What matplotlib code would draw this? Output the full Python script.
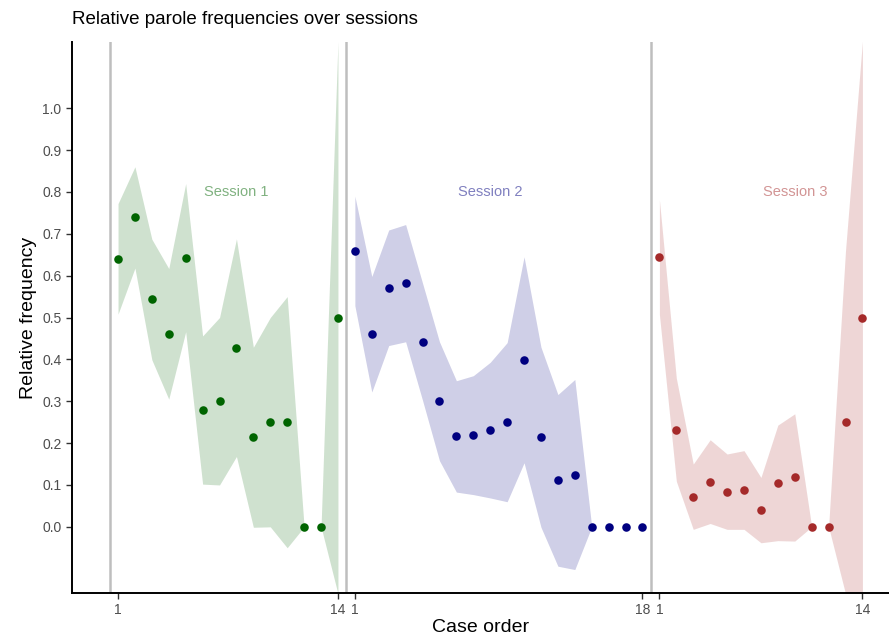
import numpy as np
import matplotlib.pyplot as plt

plt.rcParams['font.family'] = ['Liberation Sans', 'DejaVu Sans']

# Relative frequencies per case
sessione1 = [0.640, 0.739, 0.543, 0.461, 0.643, 0.279, 0.300, 0.428, 0.214, 0.250, 0.250, 0.0, 0.0, 0.500]
sessione2 = [0.659, 0.460, 0.571, 0.582, 0.442, 0.300, 0.216, 0.219, 0.231, 0.250, 0.399, 0.214,
             0.111, 0.125, 0.0, 0.0, 0.0, 0.0]
sessione3 = [0.644, 0.232, 0.072, 0.108, 0.084, 0.088, 0.040, 0.105, 0.118, 0.0, 0.0, 0.250, 0.500]

# Half-width of the ribbon around each value
errore1 = [0.132, 0.121, 0.144, 0.156, 0.177, 0.177, 0.200, 0.260, 0.215, 0.250, 0.300, 0.0, 0.0, 0.66]
errore2 = [0.131, 0.138, 0.138, 0.140, 0.140, 0.142, 0.133, 0.142, 0.162, 0.190, 0.246, 0.215,
           0.205, 0.227, 0.0, 0.0, 0.0, 0.0]
errore3 = [0.137, 0.123, 0.078, 0.100, 0.090, 0.094, 0.078, 0.138, 0.152, 0.0, 0.0, 0.41, 0.66]

sessioni = ["Session 1", "Session 2", "Session 3"]
colori = ["#006400", "#000080", "#a52a2a"]
etichette_x = ["1", "14", "1", "18", "1", "14"]
posizioni_testo = [8, 23, 41]

fig = plt.figure(figsize=(8.89, 6.42), dpi=100)
ax = fig.add_axes([72 / 889, 49 / 642, 817 / 889, 551 / 642])

dati = [sessione1, sessione2, sessione3]
errori = [errore1, errore2, errore3]
inizio = 1
tick_pos = []
confini = [0.5]
for valori, err, colore in zip(dati, errori, colori):
    valori = np.array(valori)
    err = np.array(err)
    x = np.arange(inizio, inizio + len(valori))
    ax.fill_between(x, valori - err, valori + err, color=colore, alpha=0.19, linewidth=0)
    ax.scatter(x, valori, color=colore, s=38, zorder=3, linewidths=0)
    tick_pos += [x[0], x[-1]]
    inizio += len(valori)
    confini.append(inizio - 0.5)

for c in confini[:-1]:
    ax.axvline(c, color="#bebebe", linewidth=1.8, zorder=1)

for nome, pos, colore in zip(sessioni, posizioni_testo, colori):
    ax.text(pos, 0.8, nome, color=colore, alpha=0.5, fontsize=10.5, ha="center", va="center")

ax.set_xlim(-1.72, 46.57)
ax.set_ylim(-0.158, 1.158)
ax.set_xticks(tick_pos)
ax.set_xticklabels(etichette_x)
ax.set_yticks(np.arange(0, 1.01, 0.1))
ax.set_yticklabels([f"{v:.1f}" for v in np.arange(0, 1.01, 0.1)])
ax.tick_params(colors="#333333", labelcolor="#4d4d4d", labelsize=10, length=4, width=1)

for lato in ["top", "right"]:
    ax.spines[lato].set_visible(False)
for lato in ["left", "bottom"]:
    ax.spines[lato].set_linewidth(1.4)

ax.set_xlabel("Case order", fontsize=14, labelpad=1)
ax.set_ylabel("Relative frequency", fontsize=14, labelpad=4)
ax.set_title("Relative parole frequencies over sessions", fontsize=13.5, loc="left", pad=13)

fig.savefig("out.png", dpi=100)
